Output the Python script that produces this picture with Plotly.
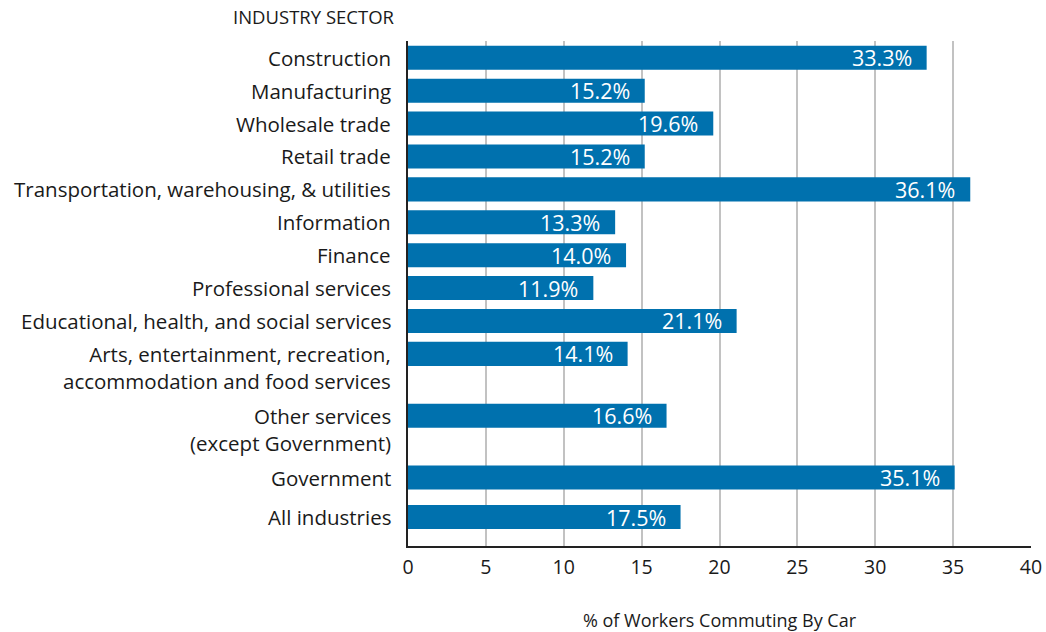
import plotly.graph_objects as go

# Share of workers commuting by car, by industry sector
sectors = [
    "Construction",
    "Manufacturing",
    "Wholesale trade",
    "Retail trade",
    "Transportation, warehousing, & utilities",
    "Information",
    "Finance",
    "Professional services",
    "Educational, health, and social services",
    "Arts, entertainment, recreation,<br>accommodation and food services",
    "Other services<br>(except Government)",
    "Government",
    "All industries",
]
car_share = [33.3, 15.2, 19.6, 15.2, 36.1, 13.3, 14.0, 11.9, 21.1, 14.1, 16.6, 35.1, 17.5]
x_ticks = [0, 5, 10, 15, 20, 25, 30, 35, 40]

BAR_COLOR = "#0071AE"
TEXT_COLOR = "#1a1a1a"
FONT = "Open Sans"
FS = 20.5
LINE_H = 1.3 * FS  # plotly's multi-line text leading

# Row positions: two-line labels take extra room, and the total row is set apart
positions = []
cursor = 0.0
for name in sectors:
    if name == "All industries":
        cursor += 0.2
    positions.append(cursor)
    cursor += 1 + 0.88 * name.count("<br>")

fig = go.Figure(
    go.Bar(
        x=car_share,
        y=positions,
        orientation="h",
        width=0.73,
        marker=dict(color=BAR_COLOR, line=dict(width=0)),
        hoverinfo="skip",
    )
)

annotations = []
for name, val, p in zip(sectors, car_share, positions):
    n_lines = name.count("<br>") + 1
    # first line of the label sits level with its bar
    annotations.append(dict(
        x=0, xref="paper", xanchor="right", xshift=-15,
        y=p, yref="y", yanchor="middle", yshift=-(n_lines - 1) * LINE_H / 2,
        text=name, showarrow=False, align="right",
        font=dict(family=FONT, size=FS, color=TEXT_COLOR),
    ))
    annotations.append(dict(
        x=val, xref="x", xanchor="right", xshift=-13,
        y=p, yref="y", yanchor="middle",
        text=f"{val:.1f}%", showarrow=False,
        font=dict(family=FONT, size=21.5, color="white"),
    ))

annotations.append(dict(
    x=0, xref="paper", xanchor="right", xshift=-11,
    y=1, yref="paper", yanchor="bottom", yshift=10,
    text="INDUSTRY SECTOR", showarrow=False,
    font=dict(family=FONT, size=18.5, color=TEXT_COLOR),
))

fig.update_layout(
    width=1046, height=632,
    margin=dict(l=408, r=15, t=41, b=86),
    paper_bgcolor="white", plot_bgcolor="white",
    showlegend=False,
    annotations=annotations,
    font=dict(family=FONT, size=FS, color=TEXT_COLOR),
    xaxis=dict(
        range=[0, 40], tickvals=x_ticks, ticks="",
        showgrid=True, gridcolor="#c2c2c2", gridwidth=1.5,
        showline=True, linecolor="#222222", linewidth=2,
        zeroline=False, ticklabelstandoff=3, automargin=False,
        tickfont=dict(family=FONT, size=19.5, color=TEXT_COLOR),
        title=dict(text="% of Workers Commuting By Car", standoff=39,
                   font=dict(family=FONT, size=18, color=TEXT_COLOR)),
    ),
    yaxis=dict(
        range=[positions[-1] + 0.88, -0.51], automargin=False,
        showticklabels=False, ticks="", showgrid=False, zeroline=False,
        showline=True, linecolor="#222222", linewidth=2,
    ),
)

fig.write_html("out.html")
